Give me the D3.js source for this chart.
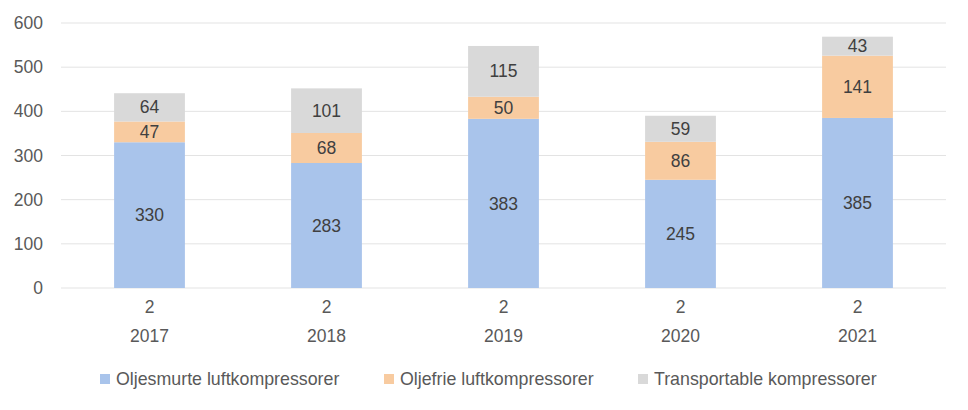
<!DOCTYPE html>
<html>
<head>
<meta charset="utf-8">
<script src="https://cdn.jsdelivr.net/npm/d3@7"></script>
<style>
  body { margin: 0; background: #fff; }
  text { font-family: "Liberation Sans", "Noto Sans", sans-serif; fill: #595959; }
</style>
</head>
<body>
<svg id="svg" width="968" height="410"></svg>
<script>
// chart data
const years = ["2017", "2018", "2019", "2020", "2021"];
const quarterLabel = "2";
const seriesNames = ["Oljesmurte luftkompressorer", "Oljefrie luftkompressorer", "Transportable kompressorer"];
const oljesmurte = [330, 283, 383, 245, 385];
const oljefrie = [47, 68, 50, 86, 141];
const transportable = [64, 101, 115, 59, 43];
const yTicks = [0, 100, 200, 300, 400, 500, 600];
const colors = ["#A9C4EB", "#F8CBA0", "#D9D9D9"];

const svg = d3.select("#svg");
const plotLeft = 61, plotRight = 946, plotTop = 23, plotBottom = 288;
const fs = "17.5px";

const yScale = d3.scaleLinear().domain([0, 600]).range([plotBottom, plotTop]);
const xScale = d3.scaleBand().domain(years).range([plotLeft, plotRight]).paddingInner(0.6).paddingOuter(0.3);

// grid lines
svg.append("g")
  .selectAll("line")
  .data(yTicks)
  .enter()
  .append("line")
  .attr("x1", plotLeft)
  .attr("x2", plotRight)
  .attr("y1", d => yScale(d))
  .attr("y2", d => yScale(d))
  .attr("stroke", "#E3E3E3")
  .attr("stroke-width", 1);

// y tick labels
svg.append("g")
  .selectAll("text")
  .data(yTicks)
  .enter()
  .append("text")
  .attr("x", 43)
  .attr("y", d => yScale(d))
  .attr("dy", "0.35em")
  .attr("text-anchor", "end")
  .style("font-size", fs)
  .text(d => d);

// stack the series
const table = years.map((y, i) => ({ year: y, s0: oljesmurte[i], s1: oljefrie[i], s2: transportable[i] }));
const stacked = d3.stack().keys(["s0", "s1", "s2"])(table);

const layers = svg.append("g")
  .selectAll("g")
  .data(stacked)
  .enter()
  .append("g")
  .attr("fill", (d, i) => colors[i]);

layers.selectAll("rect")
  .data(d => d)
  .enter()
  .append("rect")
  .attr("x", d => xScale(d.data.year))
  .attr("y", d => yScale(d[1]))
  .attr("width", xScale.bandwidth())
  .attr("height", d => yScale(d[0]) - yScale(d[1]));

// value labels inside segments
layers.selectAll("text")
  .data(d => d.map(p => ({ p: p, key: d.key })))
  .enter()
  .append("text")
  .attr("x", d => xScale(d.p.data.year) + xScale.bandwidth() / 2)
  .attr("y", d => yScale((d.p[0] + d.p[1]) / 2))
  .attr("dy", "0.35em")
  .attr("text-anchor", "middle")
  .style("font-size", fs)
  .style("fill", "#404040")
  .text(d => d.p.data[d.key]);

// x axis labels (two lines)
const xl = svg.append("g")
  .selectAll("text")
  .data(years)
  .enter()
  .append("text")
  .attr("text-anchor", "middle")
  .style("font-size", fs);
xl.append("tspan")
  .attr("x", d => xScale(d) + xScale.bandwidth() / 2)
  .attr("y", 313)
  .text(quarterLabel);
xl.append("tspan")
  .attr("x", d => xScale(d) + xScale.bandwidth() / 2)
  .attr("y", 342)
  .text(d => d);

// legend
const legendX = [100, 384, 638];
const legend = svg.append("g")
  .selectAll("g")
  .data(seriesNames)
  .enter()
  .append("g")
  .attr("transform", (d, i) => `translate(${legendX[i]}, 379)`);
legend.append("rect")
  .attr("x", 0)
  .attr("y", -5)
  .attr("width", 10)
  .attr("height", 10)
  .attr("fill", (d, i) => colors[i]);
legend.append("text")
  .attr("x", 16)
  .attr("y", 0)
  .attr("dy", "0.35em")
  .style("font-size", "17.8px")
  .text(d => d);
</script>
</body>
</html>
